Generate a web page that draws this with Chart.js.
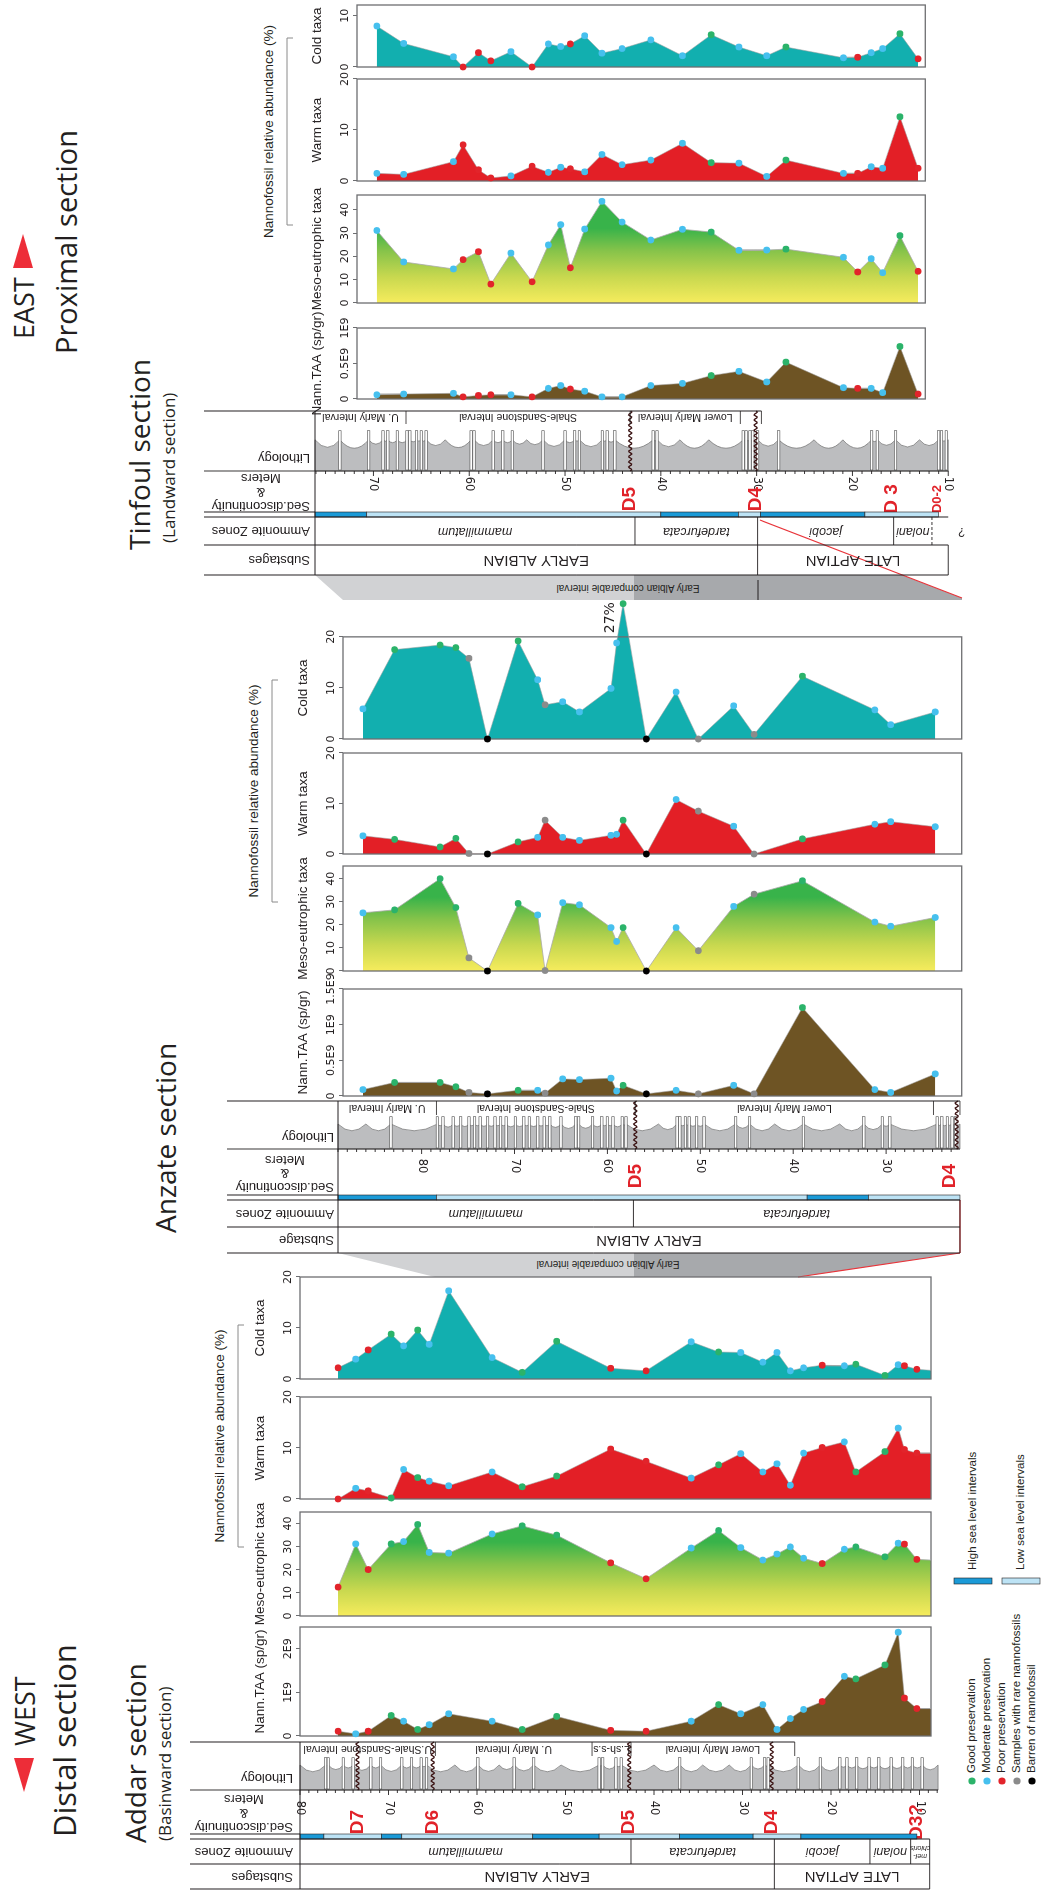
<!DOCTYPE html>
<html>
<head>
<meta charset="utf-8">
<title>Nannofossil sections</title>
<script src="https://cdn.jsdelivr.net/npm/chart.js@4.4.1/dist/chart.umd.min.js"></script>
<style>
  html, body { margin: 0; padding: 0; background: #fff; overflow: hidden; }
  #page { position: absolute; left: 0; top: 0; width: 1892px; height: 1043px;
          transform-origin: 0 0; transform: translateY(1892px) rotate(-90deg);
          font-family: "Liberation Sans", Arial, sans-serif; color: #231f20; }
  #page canvas { position: absolute; }
  .txt { position: absolute; white-space: nowrap; line-height: 1; }
  .big { font-family: "Open Sans", sans-serif; }
</style>
</head>
<body>
<div id="page"><svg id="deco" width="1892" height="1043" style="position:absolute;left:0;top:0"></svg></div>
<script>
// ---------- Addar section (basinward) ----------
const addarDepth = [75.7, 73.7, 72.3, 69.7, 68.3, 66.7, 65.4, 63.2, 58.3, 54.9, 51.0, 44.9, 40.9, 35.8, 32.7, 30.2, 27.7, 26.1, 24.6, 23.1, 21.0, 18.5, 17.2, 13.9, 12.4, 11.7, 10.3, 8.7];
const addarPres = ['p','m','p','g','m','g','m','m','m','g','g','p','p','m','g','m','m','m','m','m','p','m','g','g','m','p','p',''];
const addarTAA = [0.11, 0.05, 0.11, 0.47, 0.34, 0.15, 0.26, 0.51, 0.34, 0.15, 0.45, 0.13, 0.11, 0.34, 0.72, 0.51, 0.72, 0.15, 0.40, 0.61, 0.79, 1.37, 1.31, 1.63, 2.38, 0.87, 0.63, 0.63]; // E9 sp/gr
const addarMeso = [12.5, 31.2, 20.1, 31.2, 32.2, 39.6, 27.5, 27.2, 35.5, 39.0, 35.0, 23.0, 16.1, 29.4, 37.0, 29.6, 24.2, 26.8, 29.9, 25.0, 22.7, 28.9, 29.9, 25.6, 31.5, 31.1, 24.5, 24.2];
const addarWarm = [0.0, 2.1, 1.6, 0.2, 5.8, 4.2, 3.5, 2.6, 5.3, 2.4, 4.5, 9.8, 7.4, 4.1, 6.7, 8.9, 5.3, 6.9, 2.7, 9.0, 10.1, 11.2, 5.3, 9.3, 13.9, 9.7, 9.0, 9.0];
const addarCold = [2.2, 3.9, 5.7, 8.8, 6.5, 9.6, 6.8, 17.3, 4.2, 1.3, 7.4, 2.1, 1.6, 7.3, 5.3, 5.2, 3.3, 5.2, 1.6, 2.2, 2.7, 2.6, 2.9, 0.7, 2.8, 2.6, 1.9, 1.7];

// ---------- Anzate section ----------
const anzDepth = [86.3, 82.9, 78.0, 76.3, 74.9, 72.9, 69.6, 67.5, 66.7, 64.8, 63.0, 59.6, 59.0, 58.3, 55.8, 52.6, 50.2, 46.4, 44.2, 39.0, 31.2, 29.5, 24.7];
const anzPres = ['m','g','g','g','r','b','g','m','r','m','m','m','m','g','b','m','r','m','r','g','m','m','m'];
const anzTAA = [0.09, 0.19, 0.19, 0.13, 0.05, 0.03, 0.08, 0.08, 0.04, 0.24, 0.23, 0.25, 0.07, 0.15, 0.03, 0.08, 0.03, 0.15, 0.03, 1.24, 0.09, 0.05, 0.31];
const anzMeso = [25.2, 26.5, 40.0, 27.5, 5.7, 0, 29.3, 24.3, 0.2, 29.6, 28.7, 18.8, 12.8, 18.8, 0, 18.8, 8.8, 28.0, 33.3, 39.1, 21.2, 19.4, 23.2];
const anzWarm = [3.6, 2.9, 1.4, 3.1, 0.1, 0, 2.4, 3.3, 6.7, 3.3, 2.7, 3.7, 3.9, 6.7, 0, 10.8, 8.5, 5.5, 0, 3.0, 5.9, 6.4, 5.4];
const anzCold = [5.9, 17.5, 18.4, 17.9, 15.8, 0, 19.2, 11.6, 6.7, 7.3, 5.3, 9.9, 18.8, 26.5, 0, 9.2, 0, 6.5, 0.9, 12.3, 5.7, 2.8, 5.3];

// ---------- Tinfoul section (landward) ----------
const tinDepth = [69.6, 66.8, 61.6, 60.6, 59.0, 57.7, 55.6, 53.4, 51.7, 50.4, 49.4, 47.9, 46.1, 44.0, 41.0, 37.7, 34.7, 31.8, 28.9, 26.9, 20.9, 19.4, 18.0, 16.8, 15.0, 13.1];
const tinPres = ['m','m','m','p','p','p','m','p','m','m','p','m','m','m','m','m','g','m','m','g','m','p','m','m','g','p'];
const tinTAA = [0.06, 0.07, 0.08, 0.03, 0.05, 0.06, 0.06, 0.03, 0.15, 0.19, 0.14, 0.11, 0.03, 0.03, 0.19, 0.22, 0.33, 0.39, 0.24, 0.52, 0.16, 0.15, 0.15, 0.09, 0.74, 0.07];
const tinMeso = [31.1, 17.6, 14.6, 18.6, 22.0, 8.1, 21.4, 9.1, 24.9, 33.6, 15.1, 31.7, 43.6, 34.7, 27.0, 31.6, 30.4, 22.6, 22.7, 23.1, 19.6, 13.3, 19.0, 13.0, 28.9, 13.6];
const tinWarm = [1.5, 1.3, 3.8, 7.1, 2.2, 0.6, 1.0, 2.9, 1.7, 2.7, 2.4, 1.8, 5.2, 3.2, 4.1, 7.4, 3.6, 3.5, 0.9, 4.1, 1.5, 1.5, 2.8, 2.5, 12.6, 2.5];
const tinCold = [8.0, 4.6, 2.0, 0, 2.8, 1.2, 3.0, 0, 4.5, 4.0, 4.5, 6.1, 2.7, 3.6, 5.3, 2.2, 6.3, 3.9, 2.2, 3.9, 1.8, 1.9, 2.8, 3.6, 6.5, 1.6];

// ---------- stratigraphy ----------
const addarMeterTicks = [80, 70, 60, 50, 40, 30, 20, 10];
const addarDiscNames = ['D7', 'D6', 'D5', 'D4', 'D3?'];
const addarDiscDepths = [73.5, 65.0, 42.8, 26.7, 10.3];
const addarZoneNames = ['mammillatum', 'tardefurcata', 'jacobi', 'nolani', 'mel-\nchioris'];
const addarZoneTops = [80, 42.6, 26.4, 15.6, 11.0];
const addarStageNames = ['EARLY ALBIAN', 'LATE APTIAN'];
const addarStageTops = [80, 26.4];
const addarSeaTops = [80, 77.3, 70.8, 68.5, 53.7, 46.2, 37.1, 28.8, 23.4];
const addarSeaHigh = [1, 0, 1, 0, 1, 0, 1, 0, 1];
const addarLithoNames = ['U.Shale-Sandstone Interval', 'U. Marly Interval', 'L.sh-s.s', 'Lower Marly Interval'];
const addarLithoTops = [80, 64.7, 47.0, 42.6];
const addarBeds = [77.1, 76.8, 75.1, 74.0, 72.0, 70.9, 68.5, 67.4, 66.3, 65.7, 59.9, 55.8, 53.6, 46.2, 45.8, 44.3, 43.7, 37.1, 29.0, 27.5, 27.1, 23.7, 21.2, 19.0, 18.2, 17.1, 15.7, 14.6, 13.2, 11.9, 10.8, 9.7];
const addarBumps = [62.5, 57.5, 50.5, 40.0, 34.5, 31.5];

const anzMeterTicks = [80, 70, 60, 50, 40, 30];
const anzDiscNames = ['D5', 'D4'];
const anzDiscDepths = [57.0, 23.2];
const anzZoneNames = ['mammillatum', 'tardefurcata'];
const anzZoneTops = [89, 57.2];
const anzStageNames = ['EARLY ALBIAN'];
const anzStageTops = [89];
const anzSeaTops = [89, 78.4, 38.5, 31.9];
const anzSeaHigh = [1, 0, 1, 0];
const anzLithoNames = ['U. Marly Interval', 'Shale-Sandstone Interval', 'Lower Marly Interval', ''];
const anzLithoTops = [89, 78.4, 57.0, 24.9];
const anzBeds = [83.3, 78.3, 77.7, 76.6, 75.8, 74.9, 74.3, 73.7, 72.9, 72.1, 71.5, 70.9, 69.9, 69.0, 68.4, 67.5, 66.8, 66.2, 65.0, 63.4, 63.1, 61.6, 60.6, 60.0, 59.4, 58.4, 58.0, 52.5, 52.2, 51.6, 51.2, 50.4, 49.6, 46.2, 44.7, 38.9, 32.4, 30.4, 29.6, 24.5, 24.0, 23.4, 22.9, 22.5];
const anzBumps = [86.0, 54.5, 42.0, 35.0];

const tinMeterTicks = [70, 60, 50, 40, 30, 20, 10];
const tinDiscNames = ['D5', 'D4', 'D 3', 'D0-2'];
const tinDiscDepths = [43.2, 30.1, 15.9, 11.1];
const tinZoneNames = ['mammillatum', 'tardefurcata', 'jacobi', 'nolani', ''];
const tinZoneTops = [76.1, 42.7, 29.9, 15.7, 11.7];
const tinStageNames = ['EARLY ALBIAN', 'LATE APTIAN'];
const tinStageTops = [76.1, 29.9];
const tinSeaTops = [76.1, 70.7, 40.0, 31.9, 29.6, 18.7];
const tinSeaHigh = [1, 0, 1, 0, 1, 0];
const tinLithoNames = ['U. Marly Interval', 'Shale-Sandstone Interval', 'Lower Marly Interval', ''];
const tinLithoTops = [76.1, 66.6, 43.2, 31.7];
const tinBeds = [73.5, 70.5, 69.0, 68.5, 67.5, 66.5, 66.2, 65.5, 65.0, 64.5, 59.8, 59.5, 57.5, 56.5, 55.5, 52.3, 50.0, 49.0, 48.5, 46.1, 45.6, 44.8, 40.8, 40.4, 31.4, 31.1, 30.7, 30.4, 29.9, 27.7, 18.0, 17.4, 15.5, 11.0, 10.7, 10.2];
const tinBumps = [62.5, 54.0, 38.0, 35.0, 24.0, 21.0, 13.0];

const presNames = ['Good preservation', 'Moderate preservation', 'Poor preservation', 'Samples with rare nannofossils', 'Barren of nannofossil'];
const presCodes = ['g', 'm', 'p', 'r', 'b'];
const presColors = { g: '#2bb36a', m: '#46c0ee', p: '#e2242b', r: '#8b8b8b', b: '#000000' };

Chart.defaults.font.family = '"Liberation Sans", Arial, sans-serif';
Chart.defaults.animation = false;

const page = document.getElementById('page');
const svg = document.getElementById('deco');
const NS = 'http://www.w3.org/2000/svg';

function svgEl(tag, attrs, txt) {
  const e = document.createElementNS(NS, tag);
  for (const k in attrs) e.setAttribute(k, attrs[k]);
  if (txt) e.textContent = txt;
  svg.appendChild(e);
  return e;
}
function label(str, x, cy, size, cls, extra) {
  const d = document.createElement('div');
  d.className = 'txt ' + (cls || '');
  d.textContent = str;
  d.style.left = x + 'px';
  d.style.top = (cy - size / 2) + 'px';
  d.style.fontSize = size + 'px';
  Object.assign(d.style, extra || {});
  page.appendChild(d);
}
function addCanvas(left, top, w, h) {
  const cv = document.createElement('canvas');
  cv.width = Math.round(w); cv.height = Math.round(h);
  cv.style.left = left + 'px'; cv.style.top = top + 'px';
  cv.style.width = Math.round(w) + 'px'; cv.style.height = Math.round(h) + 'px';
  page.appendChild(cv);
  return cv;
}

// text helpers (canvas is in landscape orientation, page is turned afterwards)
function vtext(ctx, str, x, y, align) {
  ctx.save(); ctx.translate(x, y); ctx.rotate(-Math.PI / 2);
  ctx.textAlign = align || 'center'; ctx.textBaseline = 'middle';
  ctx.fillText(str, 0, 0); ctx.restore();
}
function fliptext(ctx, str, x, y) {
  ctx.save(); ctx.translate(x, y); ctx.rotate(Math.PI);
  ctx.textAlign = 'center'; ctx.textBaseline = 'middle';
  ctx.fillText(str, 0, 0); ctx.restore();
}
function seg(ctx, x0, y0, x1, y1) { ctx.beginPath(); ctx.moveTo(x0, y0); ctx.lineTo(x1, y1); ctx.stroke(); }

function makeStratPlugin(s) {
  return {
    id: 'strat',
    afterDraw(chart) {
      const ctx = chart.ctx, ys = chart.scales.y;
      const X = lx => lx - s.canvasLeft;
      const H = ly => ly - s.canvasTop;
      const Y = m => ys.getPixelForValue(m);
      const c = s.cols;
      const L0 = X(c.litho[0]), L1 = X(c.litho[1]), lw = L1 - L0;
      const yTop = Y(s.lithoTop), yBot = Y(s.lithoBottom);
      ctx.save();

      // lithology: grey weathering profile with scalloped edge
      const peaks = [s.lithoTop].concat(s.beds, s.bumps, [s.lithoBottom]).sort((a, b) => b - a);
      const hi = L0 + lw * 0.52;
      ctx.beginPath(); ctx.moveTo(L0, yTop); ctx.lineTo(hi, yTop);
      for (let i = 0; i < peaks.length - 1; i++) {
        const y0 = Y(peaks[i]), y1 = Y(peaks[i + 1]);
        const dip = Math.min((y1 - y0) * 0.3, lw * 0.14);
        ctx.quadraticCurveTo(hi - dip * 2, (y0 + y1) / 2, hi, y1);
      }
      ctx.lineTo(L0, yBot); ctx.closePath();
      ctx.fillStyle = '#bcbdbf'; ctx.fill();
      ctx.strokeStyle = '#6f6f6f'; ctx.lineWidth = 0.7; ctx.stroke();
      for (const b of s.beds) {
        const y = Y(b);
        ctx.fillStyle = '#ffffff'; ctx.fillRect(L0 + 1, y - 1.2, lw * 0.66, 2.4);
        ctx.strokeStyle = '#4d4d4d'; ctx.lineWidth = 0.6; ctx.strokeRect(L0 + 1, y - 1.2, lw * 0.66, 2.4);
      }
      // sedimentary discontinuities
      ctx.strokeStyle = '#3a1212'; ctx.lineWidth = 1.3;
      for (const d of s.waves) {
        const y = Y(d);
        ctx.beginPath();
        for (let x = L0; x <= L1; x += 1) {
          const yy = y + Math.sin((x - L0) * 1.2) * 1.6;
          if (x === L0) ctx.moveTo(x, yy); else ctx.lineTo(x, yy);
        }
        ctx.stroke();
      }
      // lithology interval names
      const R0 = L1 - s.rowW;
      ctx.fillStyle = '#231f20'; ctx.strokeStyle = '#231f20'; ctx.lineWidth = 0.8;
      ctx.font = '10.5px "Liberation Sans"';
      s.lithoTops.forEach((t, i) => {
        const b = i + 1 < s.lithoTops.length ? s.lithoTops[i + 1] : s.rowEnd;
        if (i > 0) seg(ctx, R0, Y(t), L1, Y(t));
        if (s.lithoNames[i]) vtext(ctx, s.lithoNames[i], (R0 + L1) / 2 + 0.5, (Y(t) + Y(b)) / 2);
      });
      seg(ctx, R0, Y(s.rowEnd), L1, Y(s.rowEnd));

      // meters axis
      ctx.strokeStyle = '#231f20'; ctx.lineWidth = 0.9;
      seg(ctx, L0, H(s.headerLY), L0, yBot);
      for (let m = Math.floor(s.lithoTop); m >= Math.ceil(s.lithoBottom); m--) {
        const len = m % 10 === 0 ? 5 : 3;
        seg(ctx, L0 - len, Y(m), L0, Y(m));
      }
      ctx.fillStyle = '#231f20'; ctx.font = '11.5px "DejaVu Sans"';
      for (const m of s.meterTicks) fliptext(ctx, String(m), X(s.meterLX), Y(m));
      ctx.fillStyle = '#e1232a';
      s.discNames.forEach((n, i) => {
        ctx.font = n.length > 3 ? 'bold 13px "Liberation Sans"' : 'bold 19px "Liberation Sans"';
        ctx.textAlign = 'center'; ctx.textBaseline = 'middle';
        ctx.fillText(n, X(s.discLX), Y(s.discDepths[i]));
      });

      // sea level bar
      const S0 = X(c.sea[0]), S1 = X(c.sea[1]);
      ctx.strokeStyle = '#231f20'; ctx.lineWidth = 0.6;
      s.seaTops.forEach((t, i) => {
        const b = i + 1 < s.seaTops.length ? s.seaTops[i + 1] : s.seaBottom;
        ctx.fillStyle = s.seaHigh[i] ? '#1b9ad7' : '#bde3f5';
        ctx.fillRect(S0, Y(t), S1 - S0, Y(b) - Y(t));
        ctx.strokeRect(S0, Y(t), S1 - S0, Y(b) - Y(t));
      });

      // ammonite zones and substages
      const boxes = (col, names, tops, end, font) => {
        const A = X(col[0]), B = X(col[1]);
        ctx.strokeStyle = '#231f20'; ctx.lineWidth = 0.9; ctx.fillStyle = '#231f20';
        tops.forEach((t, i) => {
          const b = i + 1 < tops.length ? tops[i + 1] : end;
          if (i > 0) {
            if (!names[i]) ctx.setLineDash([3, 2]);
            seg(ctx, A, Y(t), B, Y(t));
            ctx.setLineDash([]);
          }
          const lines = names[i].split('\n');
          ctx.font = lines.length > 1 ? 'italic 7px "Liberation Sans"' : font;
          lines.forEach((ln, k) => vtext(ctx, ln, (A + B) / 2 + (k - (lines.length - 1) / 2) * 8, (Y(t) + Y(b)) / 2));
        });
        if (names[names.length - 1]) seg(ctx, A, Y(end), B, Y(end));
      };
      boxes(c.zone, s.zoneNames, s.zoneTops, s.boxEnd, 'italic 12.5px "Liberation Sans"');
      boxes(c.stage, s.stageNames, s.stageTops, s.boxEnd, '15px "Liberation Sans"');
      if (s.question) { ctx.font = '12px "Liberation Sans"'; vtext(ctx, '?', X((c.zone[0] + c.zone[1]) / 2), Y(s.question)); }

      // table lines
      ctx.strokeStyle = '#231f20'; ctx.lineWidth = 1;
      seg(ctx, X(c.stage[0]), H(s.headerLY), X(c.stage[0]), Y(s.boxEnd));
      seg(ctx, X(c.zone[0]), H(s.headerLY), X(c.zone[0]), Y(s.boxEnd));
      seg(ctx, X(c.zone[1]), H(s.headerLY), X(c.zone[1]), Y(s.boxEnd));
      seg(ctx, X(c.sea[1]), H(s.headerLY), X(c.sea[1]), yTop);
      seg(ctx, L1, H(s.headerLY), L1, Y(s.rowEnd));
      seg(ctx, X(c.stage[0]), yTop, L1, yTop);

      // column headers
      ctx.fillStyle = '#231f20'; ctx.font = '13px "Liberation Sans"';
      for (const hd of s.headers) {
        if (hd.t.length === 1) { vtext(ctx, hd.t[0], X(hd.lx[0]), H(s.headerAnchor), 'left'); continue; }
        const longest = Math.max(...hd.t.map(t => ctx.measureText(t).width));
        hd.t.forEach((t, k) => vtext(ctx, t, X(hd.lx[k]), H(s.headerAnchor) - longest / 2));
      }
      ctx.restore();
    }
  };
}

function drawStrat(s) {
  const c = s.cols;
  const left = c.stage[0] - 4, right = c.litho[1] + 4;
  const top = s.headerLY - 4;
  const yBot = s.topLY + (s.mTop - s.lithoBottom) * s.ppm;
  const bottom = yBot + 40;
  s.canvasLeft = left; s.canvasTop = top;
  const cv = addCanvas(left, top, right - left, bottom - top);
  new Chart(cv, {
    type: 'scatter',
    data: { datasets: [{ data: [] }] },
    options: {
      responsive: false, animation: false, events: [],
      layout: { padding: { left: 0, right: 0, top: s.topLY - top, bottom: Math.round(bottom - top) - (yBot - top) } },
      plugins: { legend: { display: false }, tooltip: { enabled: false } },
      scales: {
        x: { type: 'linear', display: false, min: 0, max: 1 },
        y: { type: 'linear', display: false, min: s.lithoBottom, max: s.mTop }
      }
    },
    plugins: [makeStratPlugin(s)]
  });
}

function fillFor(kind) {
  if (kind === 'cold') return '#12afaf';
  if (kind === 'warm') return '#e31f26';
  if (kind === 'taa') return '#6e5424';
  return (ctx) => {
    const ch = ctx.chart;
    if (!ch.chartArea) return '#9cc84a';
    const x = ch.scales.x;
    const g = ch.ctx.createLinearGradient(x.getPixelForValue(0), 0, x.getPixelForValue(32), 0);
    g.addColorStop(0, '#f6ec5d'); g.addColorStop(0.35, '#c8d84f'); g.addColorStop(0.7, '#86c34a'); g.addColorStop(1, '#38b34a');
    return g;
  };
}

// frame of a panel, its title (drawn unshrunk, like the original) and an optional note
function makeFramePlugin(fMax, title, note) {
  return {
    id: 'frame',
    beforeDatasetDraw(chart) {
      const { ctx, chartArea: a, scales: { x } } = chart;
      ctx.save(); ctx.strokeStyle = '#6d6e71'; ctx.lineWidth = 1.3;
      ctx.strokeRect(a.left, a.top, x.getPixelForValue(fMax) - a.left, a.bottom - a.top);
      ctx.restore();
    },
    afterDraw(chart) {
      const { ctx, chartArea: a, scales: { x } } = chart;
      ctx.save(); ctx.fillStyle = '#231f20'; ctx.font = '13.5px "Liberation Sans"';
      ctx.textAlign = 'center'; ctx.textBaseline = 'middle';
      ctx.fillText(title, (a.left + x.getPixelForValue(fMax)) / 2, a.top - 40);
      if (note) {
        const pt = chart.getDatasetMeta(0).data[note.index];
        ctx.font = '14px "DejaVu Sans"';
        ctx.fillText(note.text, pt.x - 14, pt.y - 13);
      }
      ctx.restore();
    }
  };
}

function drawPanel(s, p) {
  const pad = 22;
  const fMax = p.frameMax || p.max;
  const areaW = (p.lx[1] - p.lx[0]) * p.max / fMax;
  const yTop = Math.round(s.topLY + (s.mTop - s.pTop) * s.ppm);
  const yBot = yTop + (s.pTop - s.pBot) * s.ppm;
  const ct = yTop - 52;
  const ch = Math.round(yBot + 14 - ct);
  const left = p.lx[0] - pad - 60;
  const cv = addCanvas(left, ct, areaW + 2 * pad + 120, ch);
  new Chart(cv, {
    type: 'line',
    data: {
      datasets: [{
        data: s.depth.map((d, i) => ({ x: p.values[i], y: d })),
        fill: 'origin',
        backgroundColor: fillFor(p.kind),
        borderColor: p.kind === 'meso' ? 'rgba(170,170,170,0.8)' : 'rgba(160,160,160,0.55)',
        borderWidth: 1,
        pointRadius: s.pres.map(c => c ? 3.4 : 0),
        pointBackgroundColor: s.pres.map(c => presColors[c] || 'rgba(0,0,0,0)'),
        pointBorderWidth: 0,
        tension: 0,
        clip: false
      }]
    },
    options: {
      indexAxis: 'y', responsive: false, animation: false, events: [],
      layout: { padding: { left: pad + 60, right: pad + 60, top: 0, bottom: ch - (yBot - ct) } },
      plugins: { legend: { display: false }, tooltip: { enabled: false } },
      scales: {
        x: {
          type: 'linear', position: 'top', min: 0, max: p.max,
          afterBuildTicks: sc => { sc.ticks = p.ticks.map(v => ({ value: v })); },
          afterFit: sc => { sc.height = 52; },
          grid: { drawOnChartArea: false, drawTicks: true, tickLength: 4, color: '#6d6e71' },
          border: { display: false },
          ticks: {
            padding: 1, color: '#231f20', maxRotation: 0, autoSkip: false,
            font: { family: '"DejaVu Sans"', size: 11 },
            callback: v => p.kind === 'taa' ? (v === 0 ? '0' : v + 'E9') : String(v)
          },
          title: { display: false }
        },
        y: { type: 'linear', display: false, min: s.pBot, max: s.pTop }
      }
    },
    plugins: [makeFramePlugin(fMax, p.title, p.note)]
  });
}

// ---------- layout (landscape; the page is turned a quarter left at the end) ----------
const addar = {
  depth: addarDepth, pres: addarPres,
  cols: { stage: [3, 28], zone: [28, 53], sea: [53, 58], meter: [58, 102], litho: [102, 150] },
  headerLY: 190, headerAnchor: 293, topLY: 300, mTop: 80, ppm: 8.85, pTop: 80, pBot: 8.7,
  lithoTop: 80, lithoBottom: 7.9, rowEnd: 24.1, rowW: 14, boxEnd: 8.85, seaBottom: 10.3,
  beds: addarBeds, bumps: addarBumps, waves: [73.5, 65.0, 42.8, 26.7],
  lithoNames: addarLithoNames, lithoTops: addarLithoTops,
  meterTicks: addarMeterTicks, meterLX: 84, discNames: addarDiscNames, discDepths: addarDiscDepths, discLX: 70,
  seaTops: addarSeaTops, seaHigh: addarSeaHigh,
  zoneNames: addarZoneNames, zoneTops: addarZoneTops, stageNames: addarStageNames, stageTops: addarStageTops,
  headers: [{ t: ['Substages'], lx: [15.5] }, { t: ['Ammonite Zones'], lx: [40.5] },
            { t: ['Sed.discontinuity', '&', 'Meters'], lx: [65, 79, 93] }, { t: ['Lithology'], lx: [114] }],
  panels: [
    { kind: 'taa', title: 'Nann.TAA (sp/gr)', values: addarTAA, max: 2.5, ticks: [0, 1, 2], lx: [156, 265] },
    { kind: 'meso', title: 'Meso-eutrophic taxa', values: addarMeso, max: 45, ticks: [0, 10, 20, 30, 40], lx: [276, 380] },
    { kind: 'warm', title: 'Warm taxa', values: addarWarm, max: 20, ticks: [0, 10, 20], lx: [393, 495] },
    { kind: 'cold', title: 'Cold taxa', values: addarCold, max: 20, ticks: [0, 10, 20], lx: [513, 615] }
  ]
};
const anzate = {
  depth: anzDepth, pres: anzPres,
  cols: { stage: [639, 665], zone: [665, 692], sea: [692, 697], meter: [697, 743], litho: [743, 791] },
  headerLY: 227, headerAnchor: 334, topLY: 338, mTop: 89, ppm: 9.29, pTop: 88.45, pBot: 21.85,
  lithoTop: 89, lithoBottom: 22.05, rowEnd: 22.05, rowW: 14, boxEnd: 22.05, seaBottom: 22.05,
  beds: anzBeds, bumps: anzBumps, waves: [57.0, 22.4],
  lithoNames: anzLithoNames, lithoTops: anzLithoTops,
  meterTicks: anzMeterTicks, meterLX: 726, discNames: anzDiscNames, discDepths: anzDiscDepths, discLX: 716,
  seaTops: anzSeaTops, seaHigh: anzSeaHigh,
  zoneNames: anzZoneNames, zoneTops: anzZoneTops, stageNames: anzStageNames, stageTops: anzStageTops,
  headers: [{ t: ['Substage'], lx: [652] }, { t: ['Ammonite Zones'], lx: [678.5] },
            { t: ['Sed.discontinuity', '&', 'Meters'], lx: [705, 719, 732] }, { t: ['Lithology'], lx: [755] }],
  panels: [
    { kind: 'taa', title: 'Nann.TAA (sp/gr)', values: anzTAA, max: 1.5, ticks: [0, 0.5, 1, 1.5], lx: [796, 903] },
    { kind: 'meso', title: 'Meso-eutrophic taxa', values: anzMeso, max: 45.5, ticks: [0, 10, 20, 30, 40], lx: [921, 1026] },
    { kind: 'warm', title: 'Warm taxa', values: anzWarm, max: 20, ticks: [0, 10, 20], lx: [1038, 1139] },
    { kind: 'cold', title: 'Cold taxa', values: anzCold, max: 28, frameMax: 20, ticks: [0, 10, 20], lx: [1153, 1255], note: { text: '27%', index: 13 } }
  ]
};
const tinfoul = {
  depth: tinDepth, pres: tinPres,
  cols: { stage: [1317, 1347], zone: [1347, 1375], sea: [1375, 1380], meter: [1380, 1421], litho: [1421, 1481] },
  headerLY: 204, headerAnchor: 310, topLY: 315, mTop: 76.1, ppm: 9.58, pTop: 71.67, pBot: 12.35,
  lithoTop: 76.1, lithoBottom: 10.0, rowEnd: 29.5, rowW: 13, boxEnd: 10.0, seaBottom: 11.0, question: 8.6,
  beds: tinBeds, bumps: tinBumps, waves: [43.2, 30.1],
  lithoNames: tinLithoNames, lithoTops: tinLithoTops,
  meterTicks: tinMeterTicks, meterLX: 1408, discNames: tinDiscNames, discDepths: tinDiscDepths, discLX: 1393,
  seaTops: tinSeaTops, seaHigh: tinSeaHigh,
  zoneNames: tinZoneNames, zoneTops: tinZoneTops, stageNames: tinStageNames, stageTops: tinStageTops,
  headers: [{ t: ['Substages'], lx: [1332] }, { t: ['Ammonite Zones'], lx: [1361] },
            { t: ['Sed.discontinuity', '&', 'Meters'], lx: [1386, 1400, 1414] }, { t: ['Lithology'], lx: [1434] }],
  panels: [
    { kind: 'taa', title: 'Nann.TAA (sp/gr)', values: tinTAA, max: 1, ticks: [0, 0.5, 1], lx: [1493, 1564] },
    { kind: 'meso', title: 'Meso-eutrophic taxa', values: tinMeso, max: 46.3, ticks: [0, 10, 20, 30, 40], lx: [1589, 1697] },
    { kind: 'warm', title: 'Warm taxa', values: tinWarm, max: 20, ticks: [0, 10, 20], lx: [1711, 1813] },
    { kind: 'cold', title: 'Cold taxa', values: tinCold, max: 12.1, ticks: [0, 10], lx: [1825, 1887] }
  ]
};

// connectors between sections ("Early Albian comparable interval")
svgEl('polygon', { points: '639,338 639,634 615,634 615,435', fill: '#d1d2d4' });
svgEl('polygon', { points: '639,634 639,960 615,798 615,634', fill: '#a7a9ac' });
svgEl('line', { x1: 639, y1: 960, x2: 615, y2: 798, stroke: '#e8343a', 'stroke-width': 1.2 });
svgEl('line', { x1: 639, y1: 960, x2: 692, y2: 960, stroke: '#e8343a', 'stroke-width': 1.2 });
svgEl('text', { transform: 'translate(628,608) rotate(-90)', 'text-anchor': 'middle', 'dominant-baseline': 'middle', 'font-size': 10, fill: '#231f20' }, 'Early Albian comparable interval');
svgEl('polygon', { points: '1317,315 1317,634 1292,634 1292,343', fill: '#d1d2d4' });
svgEl('polygon', { points: '1317,634 1317,902 1294,962 1292,962 1292,634', fill: '#a7a9ac' });
svgEl('line', { x1: 1372, y1: 760, x2: 1294, y2: 962, stroke: '#e8343a', 'stroke-width': 1.2 });
svgEl('line', { x1: 1312, y1: 758, x2: 1292, y2: 758, stroke: '#231f20', 'stroke-width': 1 });
svgEl('text', { transform: 'translate(1304,628) rotate(-90)', 'text-anchor': 'middle', 'dominant-baseline': 'middle', 'font-size': 10, fill: '#231f20' }, 'Early Albian comparable interval');

// brackets over the relative abundance panels
[[345, 567, 238], [990, 1212, 272], [1667, 1854, 287]].forEach(([a, b, y]) => {
  svgEl('polyline', { points: `${a},${y + 6} ${a},${y} ${b},${y} ${b},${y + 6}`, fill: 'none', stroke: '#8a8a8a', 'stroke-width': 1 });
  label('Nannofossil relative abundance (%)', 0, y - 18, 13.5, '', { left: ((a + b) / 2) + 'px', transform: 'translateX(-50%)' });
});

// direction arrows
svgEl('polygon', { points: '100,24 134,14 134,34', fill: '#ed2d38' });
svgEl('polygon', { points: '1658,23 1624,13 1624,33', fill: '#ed2d38' });

// legend
presCodes.forEach((c, i) => {
  svgEl('circle', { cx: 111, cy: 972 + i * 15, r: 3.6, fill: presColors[c] });
  label(presNames[i], 119, 972 + i * 15, 11.5);
});
svgEl('rect', { x: 308, y: 954, width: 6, height: 38, fill: '#1b9ad7', stroke: '#231f20', 'stroke-width': 0.6 });
svgEl('rect', { x: 308, y: 1002, width: 6, height: 38, fill: '#bde3f5', stroke: '#231f20', 'stroke-width': 0.6 });
label('High sea level intervals', 322, 973, 11.5);
label('Low sea level intervals', 322, 1021, 11.5);

// section titles
label('WEST', 146, 24, 27, 'big');
label('Distal section', 55, 64, 31, 'big');
label('Addar section', 49, 135, 28, 'big');
label('(Basinward section)', 51, 164, 17, 'big');
label('Anzate section', 659, 165, 28, 'big');
label('EAST', 1553, 23, 27, 'big');
label('Proximal section', 1538, 65, 29, 'big');
label('Tinfoul section', 1342, 139, 28, 'big');
label('(Landward section)', 1349, 168, 17, 'big');

for (const s of [addar, anzate, tinfoul]) {
  drawStrat(s);
  s.panels.forEach(p => drawPanel(s, p));
}
</script>
</body>
</html>
